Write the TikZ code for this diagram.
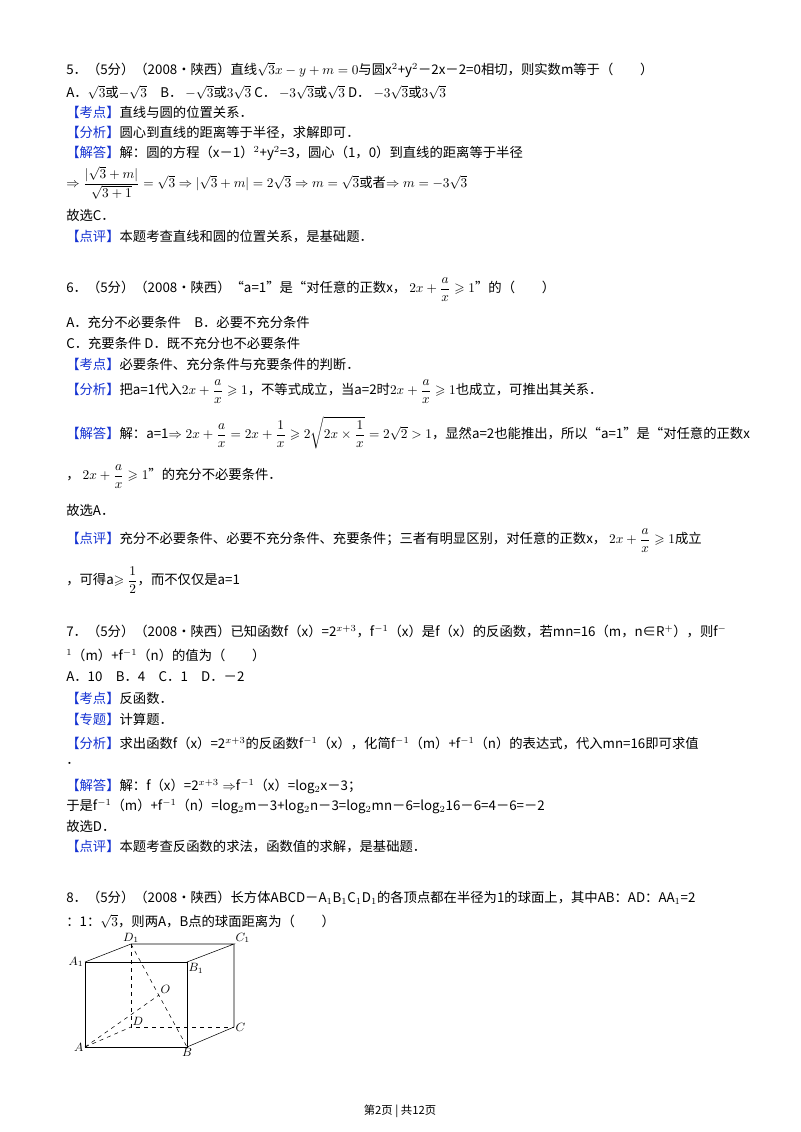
\documentclass[tikz,border=0pt]{standalone}
\usepackage{amsmath,amssymb}
\usepackage{fontspec}
\setmainfont{Noto Sans CJK SC}
\definecolor{kb}{RGB}{20,50,210}
\newcommand{\kd}[1]{\textcolor{kb}{【#1】}}
\begin{document}
\begin{tikzpicture}[x=0.75pt,y=-0.75pt,L/.style={anchor=west,inner sep=0pt,font=\fontsize{10}{12}\selectfont},lbl/.style={inner sep=1pt,font=\fontsize{9}{10}\selectfont\itshape}]
\useasboundingbox (0,0) rectangle (800,1132);
\fill[white] (0,0) rectangle (800,1132);
\node[L] (a1) at (66,70) {5．（5分）（2008•陕西）直线$\sqrt{3}x-y+m=0$与圆x$^2$+y$^2$－2x－2=0相切，则实数m等于（\quad\quad）};
\node[L] (a2) at (66,92) {A．$\sqrt3$或$-\sqrt3$\quad B．\ $-\sqrt3$或$3\sqrt3$ C．\ $-3\sqrt3$或$\sqrt3$ D．\ $-3\sqrt3$或$3\sqrt3$};
\node[L] (a3) at (66,112) {\kd{考点}直线与圆的位置关系．};
\node[L] (a4) at (66,133) {\kd{分析}圆心到直线的距离等于半径，求解即可．};
\node[L] (a5) at (66,153) {\kd{解答}解：圆的方程（x－1）$^2$+y$^2$=3，圆心（1，0）到直线的距离等于半径};
\node[L] (a6) at (66,183) {$\Rightarrow\dfrac{|\sqrt3+m|}{\sqrt{3+1}}=\sqrt3\Rightarrow|\sqrt3+m|=2\sqrt3\Rightarrow m=\sqrt3$或者$\Rightarrow m=-3\sqrt3$};
\node[L] (a7) at (66,215) {故选C．};
\node[L] (a8) at (66,237) {\kd{点评}本题考查直线和圆的位置关系，是基础题．};

\node[L] (b1) at (66,290) {6．（5分）（2008•陕西）“a=1”是“对任意的正数x，\ $2x+\dfrac{a}{x}\geqslant1$”的（\quad\quad）};
\node[L] (b2) at (66,322) {A．充分不必要条件\quad B．必要不充分条件};
\node[L] (b3) at (66,343) {C．充要条件 D．既不充分也不必要条件};
\node[L] (b4) at (66,364) {\kd{考点}必要条件、充分条件与充要条件的判断．};
\node[L] (b5) at (66,392) {\kd{分析}把a=1代入$2x+\dfrac{a}{x}\geqslant1$，不等式成立，当a=2时$2x+\dfrac{a}{x}\geqslant1$也成立，可推出其关系．};
\node[L] (b6) at (66,433) {\kd{解答}解：a=1$\Rightarrow2x+\dfrac{a}{x}=2x+\dfrac1x\geqslant2\sqrt{2x\times\dfrac1x}=2\sqrt2>1$，显然a=2也能推出，所以“a=1”是“对任意的正数x};
\node[L] (b7) at (66,477) {，\ $2x+\dfrac{a}{x}\geqslant1$”的充分不必要条件．};
\node[L] (b8) at (66,510) {故选A．};
\node[L] (b9) at (66,541) {\kd{点评}充分不必要条件、必要不充分条件、充要条件；三者有明显区别，对任意的正数x，\ $2x+\dfrac{a}{x}\geqslant1$成立};
\node[L] (b10) at (66,580) {，可得a$\geqslant\dfrac12$，而不仅仅是a=1};

\node[L] (c1) at (66,631) {7．（5分）（2008•陕西）已知函数f（x）=2$^{x+3}$，f$^{-1}$（x）是f（x）的反函数，若mn=16（m，n∈R$^+$），则f$^-$};
\node[L] (c2) at (66,655) {$^1$（m）+f$^{-1}$（n）的值为（\quad\quad）};
\node[L] (c3) at (66,677) {A．10\quad B．4\quad C．1\quad D．－2};
\node[L] (c4) at (66,698) {\kd{考点}反函数．};
\node[L] (c5) at (66,719) {\kd{专题}计算题．};
\node[L] (c6) at (66,743) {\kd{分析}求出函数f（x）=2$^{x+3}$的反函数f$^{-1}$（x），化简f$^{-1}$（m）+f$^{-1}$（n）的表达式，代入mn=16即可求值};
\node[L] (c7) at (66,763) {．};
\node[L] (c8) at (66,786) {\kd{解答}解：f（x）=2$^{x+3}\Rightarrow$f$^{-1}$（x）=log$_2$x－3；};
\node[L] (c9) at (66,806) {于是f$^{-1}$（m）+f$^{-1}$（n）=log$_2$m－3+log$_2$n－3=log$_2$mn－6=log$_2$16－6=4－6=－2};
\node[L] (c10) at (66,826) {故选D．};
\node[L] (c11) at (66,847) {\kd{点评}本题考查反函数的求法，函数值的求解，是基础题．};

\node[L] (d1) at (66,898) {8．（5分）（2008•陕西）长方体ABCD－A$_1$B$_1$C$_1$D$_1$的各顶点都在半径为1的球面上，其中AB：AD：AA$_1$=2};
\node[L] (d2) at (66,921) {：1：$\sqrt3$，则两A，B点的球面距离为（\quad\quad）};

\coordinate (A) at (85,1047); \coordinate (B) at (187,1047);
\coordinate (A1) at (85,962); \coordinate (B1) at (187,962);
\coordinate (D1) at (131,944); \coordinate (C1) at (234,944);
\coordinate (D) at (131,1027); \coordinate (C) at (234,1027);
\coordinate (O) at (159,995);
\draw (A) -- (B) -- (B1) -- (A1) -- cycle;
\draw (A1) -- (D1) -- (C1) -- (B1);
\draw (C1) -- (C) -- (B);
\draw[dashed] (D1) -- (D) -- (C);
\draw[dashed] (A) -- (D);
\draw[dashed] (A) -- (O);
\draw[dashed] (D1) -- (B);
\node[lbl,anchor=south] (lD1) at (D1) {$D_1$};
\node[lbl,anchor=south west] (lC1) at (C1) {$C_1$};
\node[lbl,anchor=east] (lA1) at (A1) {$A_1$};
\node[lbl,anchor=north west] (lB1) at (B1) {$B_1$};
\node[lbl,anchor=south west] (lO) at (O) {$O$};
\node[lbl,anchor=south west] (lD) at (D) {$D$};
\node[lbl,anchor=west] (lC) at (C) {$C$};
\node[lbl,anchor=east] (lA) at (A) {$A$};
\node[lbl,anchor=north] (lB) at (B) {$B$};

\node[L,anchor=center,font=\fontsize{8.5}{10}\selectfont] (ft) at (400,1111) {第2页 \textbar\ 共12页};
\end{tikzpicture}
\end{document}
